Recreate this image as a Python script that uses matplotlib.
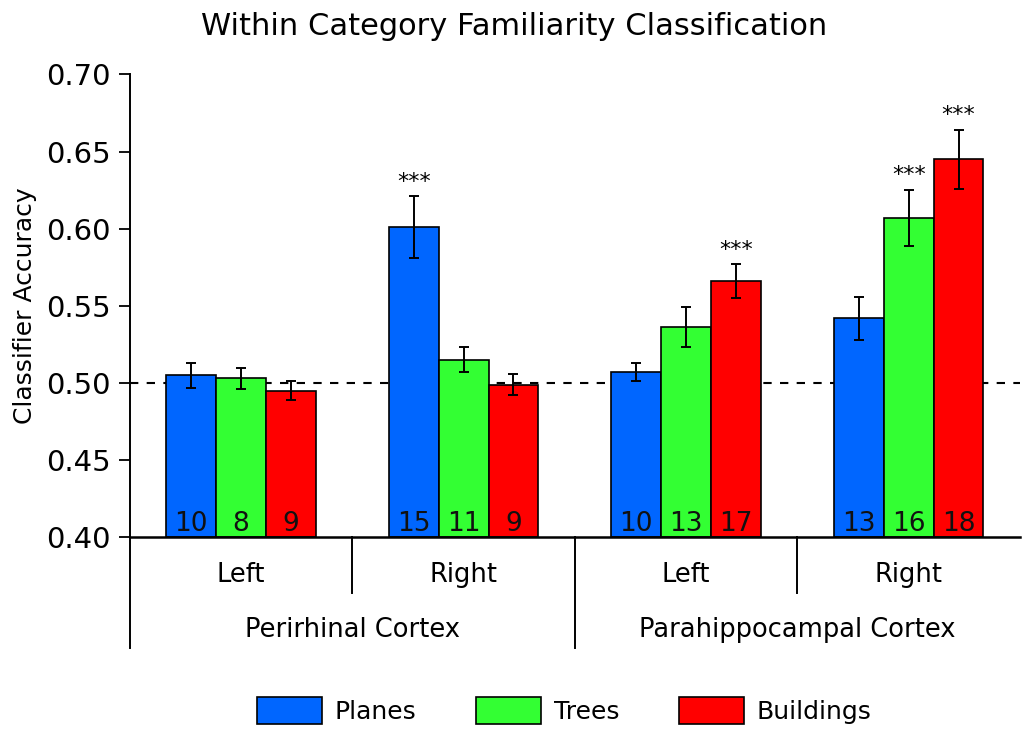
import matplotlib.pyplot as plt
import numpy as np

plt.rcParams['font.family'] = ['DejaVu Sans']

# Data
groups = ['Left', 'Right', 'Left', 'Right']
regions = ['Perirhinal Cortex', 'Parahippocampal Cortex']
series = ['Planes', 'Trees', 'Buildings']
colors = ['#0066ff', '#33ff33', '#ff0000']

planes = [0.505, 0.601, 0.507, 0.542]
trees = [0.503, 0.515, 0.536, 0.607]
buildings = [0.495, 0.499, 0.566, 0.645]

planes_err = [0.008, 0.020, 0.006, 0.014]
trees_err = [0.007, 0.008, 0.013, 0.018]
buildings_err = [0.006, 0.007, 0.011, 0.019]

planes_n = [10, 15, 10, 13]
trees_n = [8, 11, 13, 16]
buildings_n = [9, 9, 17, 18]

planes_sig = ['', '***', '', '']
trees_sig = ['', '', '', '***']
buildings_sig = ['', '', '***', '***']

values = [planes, trees, buildings]
errors = [planes_err, trees_err, buildings_err]
counts = [planes_n, trees_n, buildings_n]
sigs = [planes_sig, trees_sig, buildings_sig]

fig = plt.figure(figsize=(10.22, 7.29), dpi=100)
ax = fig.add_axes([0.127, 0.263, 0.871, 0.635])

x = np.arange(len(groups))
width = 0.224

for i, name in enumerate(series):
    pos = x + (i - 1) * width
    ax.bar(pos, np.array(values[i]) - 0.40, width, bottom=0.40, color=colors[i],
           edgecolor='black', linewidth=1.2, label=name, zorder=2)
    ax.errorbar(pos, values[i], yerr=errors[i], fmt='none', ecolor='black',
                elinewidth=1.4, capsize=3.5, capthick=1.4, zorder=3)
    for j in range(len(groups)):
        ax.text(pos[j], 0.4, str(counts[i][j]), ha='center', va='bottom',
                fontsize=19, color='#111111', zorder=4)
        if sigs[i][j]:
            ax.text(pos[j], values[i][j] + errors[i][j] + 0.003, sigs[i][j],
                    ha='center', va='bottom', fontsize=16, zorder=4)

# Chance line
ax.axhline(0.50, color='black', linestyle=(0, (4, 4)), linewidth=1.5, zorder=1)

ax.set_xlim(-0.5, 3.5)
ax.set_ylim(0.40, 0.70)
ax.set_yticks(np.arange(0.40, 0.701, 0.05))
ax.set_yticklabels(['%.2f' % v for v in np.arange(0.40, 0.701, 0.05)], fontsize=21)
ax.tick_params(axis='y', direction='out', length=8, width=1.3, pad=6)
ax.set_xticks([])
ax.spines['top'].set_visible(False)
ax.spines['right'].set_visible(False)
ax.spines['left'].set_linewidth(1.4)
ax.spines['bottom'].set_linewidth(1.8)
ax.set_ylabel('Classifier Accuracy', fontsize=18, labelpad=6)
fig.text(0.503, 0.963, 'Within Category Familiarity Classification',
         ha='center', va='center', fontsize=22)

# Group labels under the axis
trans = ax.get_xaxis_transform()
for xs, depth in [(-0.5, 0.24), (0.5, 0.12), (1.5, 0.24), (2.5, 0.12)]:
    ax.plot([xs, xs], [0, -depth], color='black', linewidth=1.4,
            transform=trans, clip_on=False)
for j, g in enumerate(groups):
    ax.text(x[j], -0.082, g, transform=trans, ha='center', va='center', fontsize=18.5)
for k, r in enumerate(regions):
    ax.text(0.5 + 2 * k, -0.201, r, transform=trans, ha='center', va='center', fontsize=18.5)

fig.legend(loc='center', bbox_to_anchor=(0.552, 0.025), ncol=3, frameon=False,
           fontsize=18, handlelength=2.6, handleheight=1.3, columnspacing=2.4,
           handletextpad=0.5)

fig.savefig('out.png', dpi=100)
